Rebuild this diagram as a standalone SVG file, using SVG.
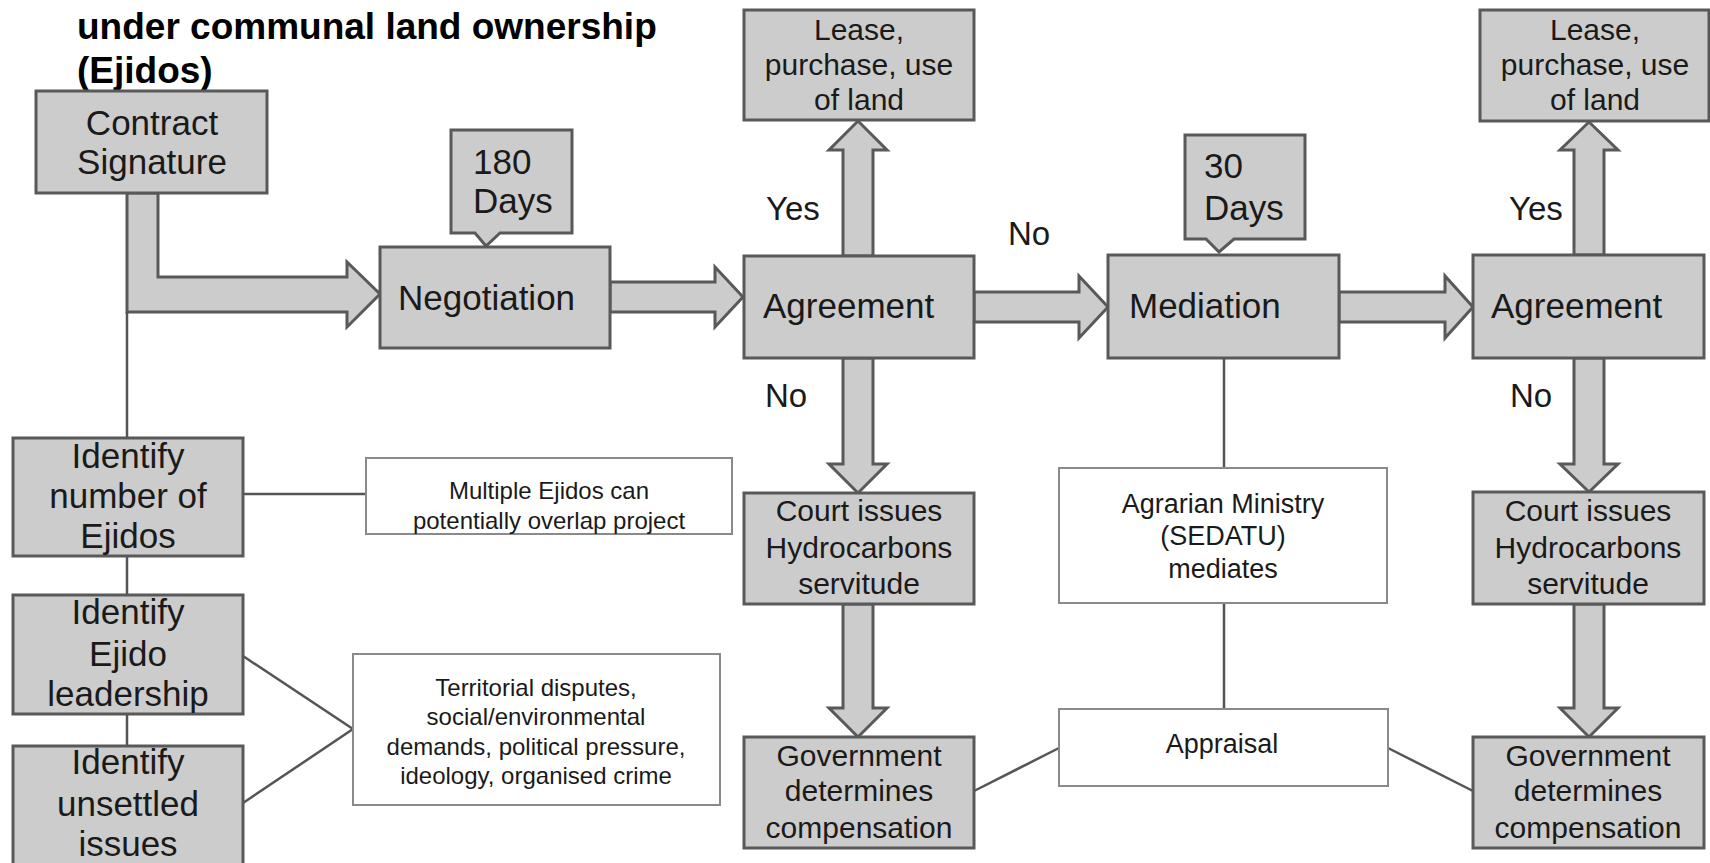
<svg xmlns="http://www.w3.org/2000/svg" width="1710" height="863" viewBox="0 0 1710 863">
<style>
text{font-family:"Liberation Sans",Arial,sans-serif;fill:#1a1a1a}
.title{font-weight:bold;font-size:37px;fill:#000}
.node{fill:#cccccc;stroke:#595959;stroke-width:3}
.note{fill:#ffffff;stroke:#8a8a8a;stroke-width:2}
.arrow{fill:#cccccc;stroke:#595959;stroke-width:3;stroke-linejoin:miter}
.line{fill:none;stroke:#555555;stroke-width:2.5}
.big{font-size:35px}
.mid{font-size:30px}
.lab{font-size:33px}
.sm{font-size:24px}
.c{text-anchor:middle}
</style>
<rect width="1710" height="863" fill="#ffffff"/>
<g id="title">
<text class="title" x="77" y="39">under communal land ownership</text>
<text class="title" x="77" y="83">(Ejidos)</text>
</g>
<g id="connectors">
<polygon class="arrow" points="127,193 158,193 158,277 347,277 347,262 380,294 347,327 347,312 127,312"/>
<polygon class="arrow" points="610,282 715,282 715,267 743,297 715,327 715,312 610,312"/>
<polygon class="arrow" points="974,292 1079,292 1079,276 1108,307 1079,338 1079,322 974,322"/>
<polygon class="arrow" points="1339,292 1445,292 1445,276 1473,307 1445,338 1445,322 1339,322"/>
<polygon class="arrow" points="843,256 843,150 829,150 858,121 887,150 873,150 873,256"/>
<polygon class="arrow" points="1574,255 1574,150 1560,150 1589,122 1618,150 1604,150 1604,255"/>
<polygon class="arrow" points="843,358 843,464 829,464 858,493 887,464 873,464 873,358"/>
<polygon class="arrow" points="843,604 843,708 829,708 858,737 887,708 873,708 873,604"/>
<polygon class="arrow" points="1574,358 1574,464 1560,464 1589,492 1618,464 1604,464 1604,358"/>
<polygon class="arrow" points="1574,604 1574,708 1560,708 1589,737 1618,708 1604,708 1604,604"/>
<path class="line" d="M127,312 V438 M127,556 V595 M127,714 V746 M243,494 H366 M243,656 L353,729 L243,803 M1224,358 V468 M1224,603 V709 M1059,748 L974,791 M1388,748 L1473,791"/>
</g>
<g id="contract">
<rect class="node" x="36" y="91" width="231" height="102"/>
<text class="big c" x="152" y="135">Contract</text>
<text class="big c" x="152" y="174">Signature</text>
</g>
<g id="days180">
<path class="node" d="M451,130 H572 V233 H500 L486,246 L475,233 H451 Z"/>
<text class="big" x="473" y="174" font-size="34">180</text>
<text class="big" x="473" y="213">Days</text>
</g>
<g id="negotiation">
<rect class="node" x="380" y="247" width="230" height="101"/>
<text class="big" x="398" y="310">Negotiation</text>
</g>
<g id="lease1">
<rect class="node" x="744" y="10" width="230" height="110"/>
<text class="mid c" x="859" y="40">Lease,</text>
<text class="mid c" x="859" y="75">purchase, use</text>
<text class="mid c" x="859" y="110">of land</text>
</g>
<g id="agreement1">
<rect class="node" x="744" y="256" width="230" height="102"/>
<text class="big" x="763" y="318">Agreement</text>
</g>
<g id="labels">
<text class="lab" x="766" y="220">Yes</text>
<text class="lab" x="765" y="407">No</text>
<text class="lab" x="1008" y="245">No</text>
<text class="lab" x="1509" y="220">Yes</text>
<text class="lab" x="1510" y="407">No</text>
</g>
<g id="court1">
<rect class="node" x="744" y="493" width="230" height="111"/>
<text class="mid c" x="859" y="521">Court issues</text>
<text class="mid c" x="859" y="558">Hydrocarbons</text>
<text class="mid c" x="859" y="594">servitude</text>
</g>
<g id="gov1">
<rect class="node" x="744" y="737" width="230" height="111"/>
<text class="mid c" x="859" y="766">Government</text>
<text class="mid c" x="859" y="801">determines</text>
<text class="mid c" x="859" y="838">compensation</text>
</g>
<g id="days30">
<path class="node" d="M1185,135 H1305 V239 H1234 L1219,252 L1206,239 H1185 Z"/>
<text class="big" x="1204" y="178">30</text>
<text class="big" x="1204" y="220">Days</text>
</g>
<g id="mediation">
<rect class="node" x="1108" y="255" width="231" height="103"/>
<text class="big" x="1129" y="318">Mediation</text>
</g>
<g id="agrarian">
<rect class="note" x="1059" y="468" width="328" height="135"/>
<text class="c" font-size="27" x="1223" y="513">Agrarian Ministry</text>
<text class="c" font-size="27" x="1223" y="545">(SEDATU)</text>
<text class="c" font-size="27" x="1223" y="578">mediates</text>
</g>
<g id="appraisal">
<rect class="note" x="1059" y="709" width="329" height="77"/>
<text class="c" font-size="27" x="1222" y="753">Appraisal</text>
</g>
<g id="lease2">
<rect class="node" x="1480" y="10" width="229" height="111"/>
<text class="mid c" x="1595" y="40">Lease,</text>
<text class="mid c" x="1595" y="75">purchase, use</text>
<text class="mid c" x="1595" y="110">of land</text>
</g>
<g id="agreement2">
<rect class="node" x="1473" y="255" width="231" height="103"/>
<text class="big" x="1491" y="318">Agreement</text>
</g>
<g id="court2">
<rect class="node" x="1473" y="492" width="231" height="112"/>
<text class="mid c" x="1588" y="521">Court issues</text>
<text class="mid c" x="1588" y="558">Hydrocarbons</text>
<text class="mid c" x="1588" y="594">servitude</text>
</g>
<g id="gov2">
<rect class="node" x="1473" y="737" width="231" height="111"/>
<text class="mid c" x="1588" y="766">Government</text>
<text class="mid c" x="1588" y="801">determines</text>
<text class="mid c" x="1588" y="838">compensation</text>
</g>
<g id="identify-number">
<rect class="node" x="13" y="438" width="230" height="118"/>
<text class="big c" x="128" y="468">Identify</text>
<text class="big c" x="128" y="508">number of</text>
<text class="big c" x="128" y="548">Ejidos</text>
</g>
<g id="identify-leadership">
<rect class="node" x="13" y="595" width="230" height="119"/>
<text class="big c" x="128" y="624">Identify</text>
<text class="big c" x="128" y="666">Ejido</text>
<text class="big c" x="128" y="706">leadership</text>
</g>
<g id="identify-issues">
<rect class="node" x="13" y="746" width="230" height="130"/>
<text class="big c" x="128" y="774">Identify</text>
<text class="big c" x="128" y="816">unsettled</text>
<text class="big c" x="128" y="856">issues</text>
</g>
<g id="multiple">
<rect class="note" x="366" y="458" width="366" height="76"/>
<text class="sm c" x="549" y="499">Multiple Ejidos can</text>
<text class="sm c" x="549" y="529">potentially overlap project</text>
</g>
<g id="territorial">
<rect class="note" x="353" y="654" width="367" height="151"/>
<text class="sm c" x="536" y="696">Territorial disputes,</text>
<text class="sm c" x="536" y="725">social/environmental</text>
<text class="sm c" x="536" y="755">demands, political pressure,</text>
<text class="sm c" x="536" y="784">ideology, organised crime</text>
</g>
</svg>
